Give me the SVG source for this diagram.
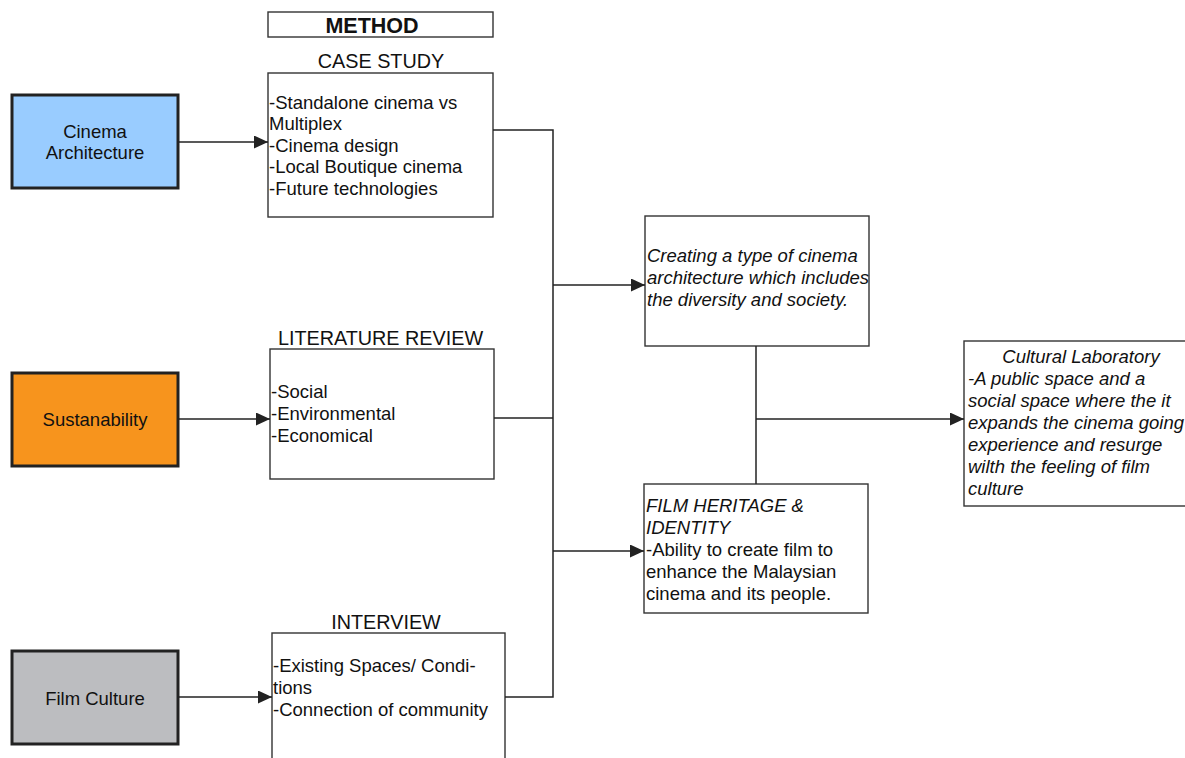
<svg xmlns="http://www.w3.org/2000/svg" width="1185" height="758" viewBox="0 0 1185 758">
<style>
.t{font-family:"Liberation Sans",Arial,sans-serif;font-size:18.5px;fill:#111}
.h{font-size:19.8px;text-anchor:middle}
.c{text-anchor:middle}
.i{font-style:italic}
.b{font-weight:bold;font-size:21.5px}
.box{fill:#fff;stroke:#333;stroke-width:1.4}
.src{stroke:#222;stroke-width:3}
.ln{fill:none;stroke:#222;stroke-width:1.5}
</style>
<defs>
<marker id="ah" markerWidth="14" markerHeight="13" refX="14" refY="6.5" orient="auto" markerUnits="userSpaceOnUse">
<path d="M0,0 L14,6.5 L0,13 Z" fill="#222"/>
</marker>
</defs>
<rect width="1185" height="758" fill="#fff"/>
<g id="method">
<rect class="box" x="268" y="12" width="225" height="25"/>
<text class="t c b" x="372" y="32.5">METHOD</text>
</g>
<g id="cinema-architecture">
<rect class="src" x="12" y="95" width="166" height="93" fill="#99CCFF"/>
<text class="t c" x="95" y="137.5">Cinema</text>
<text class="t c" x="95" y="159">Architecture</text>
</g>
<g id="sustainability">
<rect class="src" x="12" y="373" width="166" height="93" fill="#F7941D"/>
<text class="t c" x="95" y="426">Sustanability</text>
</g>
<g id="film-culture">
<rect class="src" x="12" y="651" width="166" height="93" fill="#BCBDC0"/>
<text class="t c" x="95" y="704.5">Film Culture</text>
</g>
<g id="case-study">
<text class="t h" x="381" y="67.7">CASE STUDY</text>
<rect class="box" x="268" y="73" width="225" height="144"/>
<text class="t" x="269" y="108.5">-Standalone cinema vs</text>
<text class="t" x="269" y="130">Multiplex</text>
<text class="t" x="269" y="151.5">-Cinema design</text>
<text class="t" x="269" y="173">-Local Boutique cinema</text>
<text class="t" x="269" y="194.5">-Future technologies</text>
</g>
<g id="literature-review">
<text class="t h" x="380.5" y="344.5">LITERATURE REVIEW</text>
<rect class="box" x="270" y="349" width="224" height="130"/>
<text class="t" x="271" y="397.5">-Social</text>
<text class="t" x="271" y="419.5">-Environmental</text>
<text class="t" x="271" y="441.5">-Economical</text>
</g>
<g id="interview">
<text class="t h" x="386" y="628.5">INTERVIEW</text>
<rect class="box" x="272" y="633" width="233" height="130"/>
<text class="t" x="273" y="671.5">-Existing Spaces/ Condi-</text>
<text class="t" x="273" y="693.5">tions</text>
<text class="t" x="273" y="715.5">-Connection of community</text>
</g>
<g id="creating">
<rect class="box" x="645" y="216" width="224" height="130"/>
<text class="t i" x="647" y="261.5">Creating a type of cinema</text>
<text class="t i" x="647" y="283.5">architecture which includes</text>
<text class="t i" x="647" y="305.5">the diversity and society.</text>
</g>
<g id="film-heritage">
<rect class="box" x="644" y="484" width="224" height="129"/>
<text class="t i" x="646" y="511.5">FILM HERITAGE &amp;</text>
<text class="t i" x="646" y="533.5">IDENTITY</text>
<text class="t" x="646" y="555.5">-Ability to create film to</text>
<text class="t" x="646" y="577.5">enhance the Malaysian</text>
<text class="t" x="646" y="599.5">cinema and its people.</text>
</g>
<g id="cultural-laboratory">
<rect class="box" x="964" y="341" width="230" height="165"/>
<text class="t i c" x="1081" y="362.5">Cultural Laboratory</text>
<text class="t i" x="968" y="384.5">-A public space and a</text>
<text class="t i" x="968" y="406.5">social space where the it</text>
<text class="t i" x="968" y="428.5">expands the cinema going</text>
<text class="t i" x="968" y="450.5">experience and resurge</text>
<text class="t i" x="968" y="472.5">wilth the feeling of film</text>
<text class="t i" x="968" y="494.5">culture</text>
</g>
<g id="connectors">
<line class="ln" x1="178" y1="142" x2="268" y2="142" marker-end="url(#ah)"/>
<line class="ln" x1="178" y1="419" x2="270" y2="419" marker-end="url(#ah)"/>
<line class="ln" x1="178" y1="697" x2="272" y2="697" marker-end="url(#ah)"/>
<polyline class="ln" points="493,130 553,130 553,697 505,697"/>
<line class="ln" x1="494" y1="418" x2="553" y2="418"/>
<line class="ln" x1="553" y1="285" x2="645" y2="285" marker-end="url(#ah)"/>
<line class="ln" x1="553" y1="551" x2="644" y2="551" marker-end="url(#ah)"/>
<line class="ln" x1="756" y1="346" x2="756" y2="484"/>
<line class="ln" x1="756" y1="419" x2="964" y2="419" marker-end="url(#ah)"/>
</g>
</svg>
